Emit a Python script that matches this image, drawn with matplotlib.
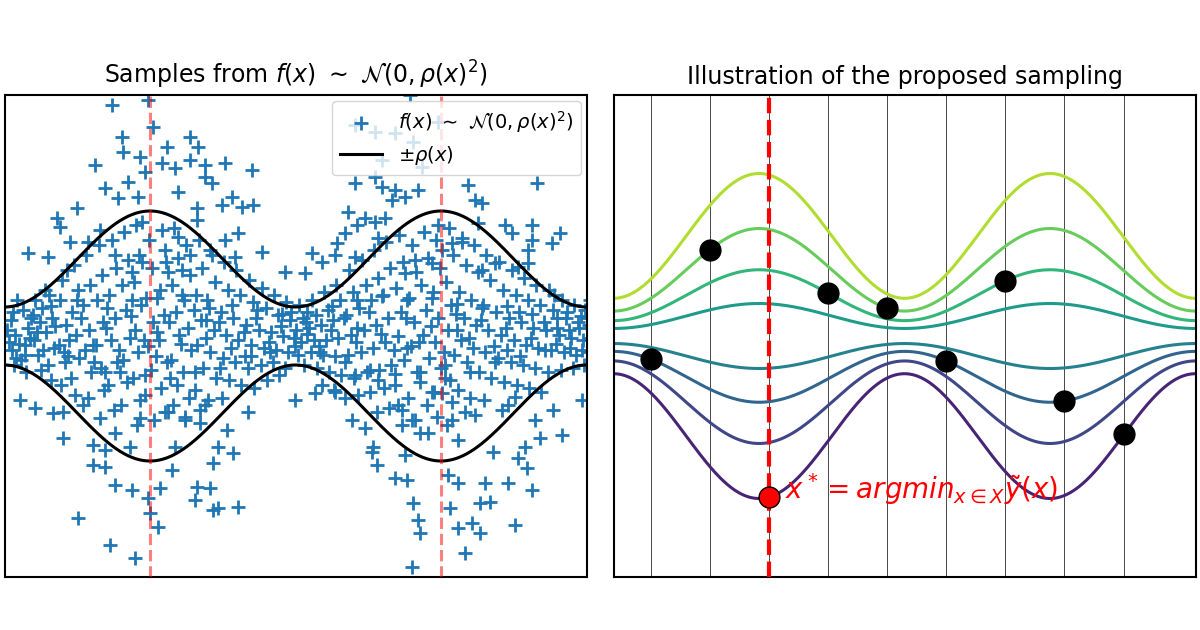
import numpy as np
import matplotlib
matplotlib.use("Agg")
import matplotlib.pyplot as plt

# ---------- data ----------
rho_mean, rho_amp, rho_period, rho_peak = 77, 48, 291, 145
center_y = 336
peak_lines_x = [145, 436]

outer_points = [
 (107,105),(143,100),(148,127),(117,137),(118,152),(90,165),(135,157),(140,172),(123,182),(100,188),
 (113,198),(133,197),(72,208),(52,218),(137,222),(157,163),(162,147),(185,137),(193,147),(185,160),
 (170,168),(200,165),(220,163),(247,170),(200,177),(207,183),(173,192),(227,197),(217,205),(237,207),
 (192,208),(248,205),(192,220),(233,233),(173,237),(220,240),(257,252),(160,250),(205,250),(185,255),
 (110,255),(95,230),(83,242),(65,242),(55,227),(23,253),(43,257),(137,262),(127,272),(163,272),
 (177,270),(280,272),(230,257),
 (350,125),(405,95),(350,183),(377,187),(390,190),(413,190),(387,200),(400,197),(343,212),(360,218),
 (370,222),(380,218),(352,225),(340,233),(373,238),(332,243),(307,253),(317,262),(330,255),(350,257),
 (433,225),(437,250),(447,243),(457,242),(410,260),(427,263),(463,185),(470,200),(477,203),(473,223),
 (500,225),(507,233),(527,225),(527,240),(555,233),(547,243),(532,183),(523,250),(490,263),(477,270),
 (513,267),(523,263),(300,273),(400,273),(370,132),(390,133),(408,142),(417,167),(377,160),(370,177),(433,122),
 (15,400),(30,408),(58,438),(88,445),(100,450),(88,465),(100,467),(110,485),(127,490),(143,498),
 (145,513),(153,527),(73,518),(105,545),(130,558),(155,488),(167,470),(192,487),(205,488),(190,500),
 (208,510),(213,508),(233,507),(208,463),(228,453),(213,447),(222,430),(195,423),(110,433),(125,447),
 (170,447),(290,400),(243,412),(200,405),(180,417),(163,412),(135,418),(95,418),(48,413),(58,412),(78,405),
 (310,393),(330,392),(347,420),(360,428),(368,447),(367,452),(372,465),(390,478),(402,480),(400,455),
 (408,503),(413,520),(415,533),(407,567),(445,508),(453,528),(460,553),(467,523),(475,533),(510,525),
 (475,503),(485,502),(453,483),(480,483),(503,483),(527,490),(443,475),(513,458),(522,468),(520,447),
 (535,438),(557,435),(488,452),(453,440),(415,433),(423,433),(397,425),(407,420),(393,405),(432,417),
 (447,420),(470,415),(497,410),(530,420),(548,410),(577,400),(427,392),(437,393),(510,397),(445,380),
 (373,380),(350,375),
]
band_points = [
 (6,320),(10,335),(7,350),(12,300),(9,365),(4,342),
 (18,310),(23,328),(20,345),(16,360),(25,338),(21,372),
 (30,300),(35,322),(29,340),(33,355),(36,370),(28,315),
 (44,295),(47,318),(41,332),(49,348),(43,365),(46,380),(40,290),
 (57,280),(55,300),(61,325),(54,345),(60,362),(56,385),(62,270),
 (69,265),(73,290),(67,312),(71,335),(74,358),(66,378),(70,395),
 (81,255),(85,285),(78,305),(84,330),(80,350),(86,372),(83,398),
 (94,245),(97,275),(92,300),(98,322),(91,345),(96,368),(99,390),
 (107,240),(111,268),(104,295),(110,318),(106,340),(112,362),(103,385),(109,410),
 (119,232),(123,260),(117,285),(121,310),(125,338),(118,360),(122,382),(116,405),
 (131,225),(134,255),(129,282),(136,305),(130,330),(133,352),(128,378),(135,400),(132,425),
 (144,240),(147,268),(141,298),(148,322),(143,346),(146,370),(140,395),(149,420),
 (157,230),(161,262),(155,290),(159,315),(154,340),(162,362),(156,388),(160,412),
 (169,228),(173,258),(167,285),(171,312),(174,335),(166,360),(172,385),(168,405),
 (181,245),(185,275),(179,300),(183,328),(186,350),(178,372),(184,398),(180,420),
 (194,240),(197,268),(191,295),(196,320),(192,345),(198,368),(190,390),(195,410),
 (207,255),(210,282),(204,308),(209,330),(205,352),(211,378),(203,400),
 (219,262),(223,290),(216,312),(221,335),(218,358),(224,380),(217,398),
 (231,270),(235,295),(228,318),(233,340),(230,362),(236,385),
 (244,280),(248,302),(241,325),(246,345),(243,368),(249,388),
 (257,288),(261,308),(254,330),(259,348),(256,365),(262,380),
 (269,295),(273,315),(266,332),(271,350),(268,362),(274,375),
 (281,302),(285,320),(278,336),(283,352),(280,368),(286,312),
 (294,305),(298,318),(291,330),(296,342),(293,355),(299,365),
 (307,300),(311,315),(304,328),(309,340),(306,352),(312,368),
 (319,292),(323,310),(316,325),(321,340),(318,355),(324,372),(317,385),
 (331,285),(335,300),(328,320),(333,338),(330,356),(336,375),(329,390),
 (344,270),(348,292),(341,315),(346,335),(343,355),(349,378),(340,398),
 (357,260),(361,285),(354,308),(359,330),(356,352),(362,372),(353,395),
 (369,250),(373,278),(366,300),(371,325),(368,348),(374,370),(365,392),(372,412),
 (381,242),(385,268),(378,295),(383,318),(380,342),(386,365),(379,388),(384,408),
 (394,235),(398,262),(391,288),(396,312),(393,336),(399,360),(390,385),(397,410),
 (407,245),(411,272),(404,298),(409,322),(406,346),(412,372),(403,398),(410,420),
 (419,232),(423,258),(416,285),(421,310),(418,335),(424,358),(415,382),(422,405),
 (431,240),(435,268),(428,292),(433,318),(430,342),(436,368),(429,392),
 (444,228),(448,255),(441,282),(446,305),(443,330),(449,355),(440,378),(447,402),(442,425),
 (457,238),(461,265),(454,292),(459,318),(456,340),(462,362),(453,390),(460,412),
 (469,245),(473,272),(466,300),(471,325),(468,348),(474,372),(465,398),
 (481,255),(485,280),(478,305),(483,330),(480,352),(486,378),(479,400),
 (494,262),(498,290),(491,312),(496,335),(493,358),(499,382),
 (507,270),(511,295),(504,318),(509,340),(506,362),(512,385),(503,405),
 (519,278),(523,300),(516,322),(521,345),(518,365),(524,388),
 (531,285),(535,305),(528,328),(533,348),(530,368),(536,392),
 (544,290),(548,310),(541,330),(546,350),(543,372),(549,295),
 (557,300),(561,318),(554,335),(559,352),(556,370),(562,312),
 (569,305),(573,322),(566,338),(571,355),(568,368),(574,328),
 (580,310),(584,325),(578,340),(583,352),(579,365),(585,300),
]
core_points = [
 (2,330),(14,344),(26,318),(38,350),(50,326),(64,340),(76,318),(88,345),(101,328),(114,350),
 (126,316),(139,340),(151,356),(164,322),(176,344),(189,310),(201,338),(214,322),(226,348),(239,332),
 (251,318),(264,342),(276,326),(289,338),(301,322),(314,346),(326,330),(339,318),(351,342),(364,312),
 (376,334),(389,350),(401,318),(414,342),(426,326),(439,352),(451,314),(464,338),(476,320),(489,346),
 (501,328),(514,312),(526,338),(539,322),(551,344),(564,330),(576,316),(586,338),
 (8,312),(20,355),(32,332),(46,306),(59,352),(72,300),(89,362),(102,308),(115,372),(127,300),
 (140,375),(152,298),(165,378),(177,295),(190,372),(202,300),(215,368),(227,305),(240,356),(252,310),
 (265,352),(277,314),(290,346),(302,312),(315,352),(327,306),(340,362),(352,300),(365,370),(377,296),
 (390,374),(402,300),(415,372),(427,298),(440,365),(452,304),(465,372),(477,308),(490,362),(502,306),
 (515,356),(527,314),(540,350),(552,318),(565,348),(577,350),(11,358),(37,308),(63,356),(100,372),
 (152,332),(201,320),(246,356),(302,334),(352,328),(402,348),(452,330),(502,350),(552,328),(582,318),
]

curve_scales = [1.3, 0.86, 0.53, 0.26, -0.26, -0.53, -0.86, -1.3]
grid_x = [37, 96, 155, 214, 273, 332, 391, 450, 510]
dot_curve = [5, 1, None, 2, 1, 5, 2, 5, 7]
best_x, best_curve = 155, 7

def rho(x):
    return rho_mean + rho_amp * np.cos(2 * np.pi * (np.asarray(x) - rho_peak) / rho_period)

# ---------- plot ----------
fig = plt.figure(figsize=(12, 6.3), dpi=100)
axL = fig.add_axes([5/1200, 53/630, 582/1200, 482/630])
axR = fig.add_axes([614/1200, 53/630, 582/1200, 482/630])

pts = np.array(outer_points + band_points + core_points, dtype=float)
xs = np.linspace(0, 582, 600)
axL.scatter(pts[:, 0], pts[:, 1], marker='+', s=90, linewidths=2, color='#1f77b4',
            label=r'$f(x)\ \sim\ \mathcal{N}(0,\rho(x)^2)$', zorder=2)
axL.plot(xs, center_y - rho(xs), color='black', lw=2.2, label=r'$\pm\rho(x)$', zorder=3)
axL.plot(xs, center_y + rho(xs), color='black', lw=2.2, zorder=3)
for px in peak_lines_x:
    axL.axvline(px, color='red', alpha=0.5, lw=2.2, ls='--', zorder=4)
axL.set_xlim(0, 582)
axL.set_ylim(577, 95)
axL.set_xticks([]); axL.set_yticks([])
axL.set_title(r'Samples from $f(x)\ \sim\ \mathcal{N}(0,\rho(x)^2)$', fontsize=17, pad=8)
axL.legend(loc='upper right', fontsize=14, framealpha=0.8, handlelength=2.2,
           borderaxespad=0.3)

colors = plt.cm.viridis(np.linspace(0.1, 0.88, len(curve_scales)))[::-1]
for gx in grid_x:
    axR.axvline(gx, color='black', lw=0.5, zorder=1)
for s, c in zip(curve_scales, colors):
    axR.plot(xs, center_y - s * rho(xs), color=c, lw=2.2, zorder=2)
axR.axvline(best_x, color='red', lw=3, ls='--', zorder=3)
for gx, ci in zip(grid_x, dot_curve):
    if ci is None:
        continue
    axR.plot(gx, center_y - curve_scales[ci] * rho(gx), 'o', color='black', ms=15, zorder=5)
by = center_y - curve_scales[best_curve] * rho(best_x)
axR.plot(best_x, by, 'o', color='red', mec='black', ms=15, zorder=6)
axR.text(best_x + 16, by - 8, r'$x^* = argmin_{x \in X}\tilde{y}(x)$', color='red',
         fontsize=20, va='center', ha='left', zorder=7)
axR.set_xlim(0, 582)
axR.set_ylim(577, 95)
axR.set_xticks([]); axR.set_yticks([])
axR.set_title('Illustration of the proposed sampling', fontsize=17, pad=8)

for ax in (axL, axR):
    for sp in ax.spines.values():
        sp.set_linewidth(1.5)

fig.savefig('out.png', dpi=100)
